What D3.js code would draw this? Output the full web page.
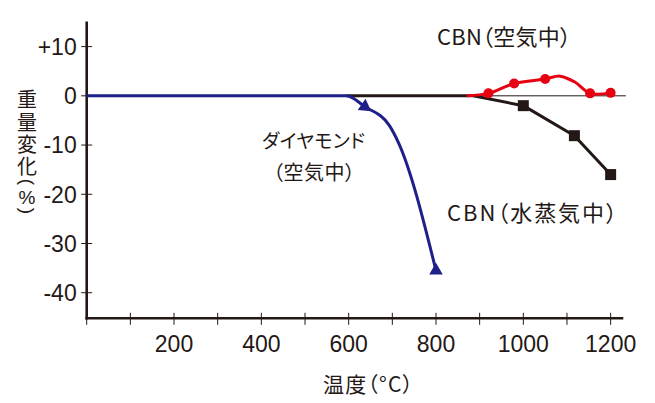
<!DOCTYPE html>
<html lang="ja">
<head>
<meta charset="utf-8">
<script src="https://cdn.jsdelivr.net/npm/d3@7"></script>
<style>
  html, body { margin: 0; padding: 0; background: #fff; }
  svg { display: block; }
  .num { font-family: "Liberation Sans", Arial, Helvetica, sans-serif; }
  .jp { font-family: "Noto Sans CJK JP", "Noto Sans", sans-serif; font-feature-settings: "palt"; }
</style>
</head>
<body>
<svg id="chart" width="655" height="403"></svg>
<script>
// Temperature (°C) axis
const xTicks = [0, 100, 200, 300, 400, 500, 600, 700, 800, 900, 1000, 1100, 1200];
const xTickLabels = [200, 400, 600, 800, 1000, 1200];
// Weight change (%) axis
const yTicks = [10, 0, -10, -20, -30, -40];
const yTickLabels = ["+10", "0", "-10", "-20", "-30", "-40"];

// Diamond in air
const diamondLine = [[0, 0], [595, 0], [637, -2.2], [693, -6.0], [714, -9.5], [800, -35.5]];
const diamondPts = [[637, -2.2], [800, -35.5]];

// CBN in air
const cbnAirLine = [[870, 0], [920, 0.5], [979, 2.5], [1050, 3.4], [1084, 4.0], [1118, 2.8], [1153, 0.5], [1200, 0.6]];
const cbnAirPts = [[920, 0.5], [979, 2.5], [1050, 3.4], [1153, 0.5], [1200, 0.6]];

// CBN in steam
const cbnSteamLine = [[595, 0], [885, 0], [1000, -2.0], [1117, -8.1], [1200, -16.0]];
const cbnSteamPts = [[1000, -2.0], [1117, -8.1], [1200, -16.0]];

// Zero reference line on the right-hand side
const zeroRef = [[880, 0], [1235, 0]];

const ink = "#231815";
const blue = "#1d2088";
const red = "#e60012";

const svg = d3.select("#chart");

const x = d3.scaleLinear().domain([0, 1229]).range([86.7, 623.3]);
const y = d3.scaleLinear().domain([-45.2, 15.1]).range([318.3, 21.5]);

// Axes
const gx = svg.append("g").attr("transform", `translate(0,${y(-45.2)})`);
gx.append("line").attr("x1", x(0) - 1.3).attr("x2", x(1229))
  .attr("stroke", ink).attr("stroke-width", 2.6);
gx.selectAll("line.tick").data(xTicks).join("line").attr("class", "tick")
  .attr("x1", d => x(d)).attr("x2", d => x(d)).attr("y1", -5.5).attr("y2", 6.5)
  .attr("stroke", ink).attr("stroke-width", 1);
gx.selectAll("text").data(xTickLabels).join("text").attr("class", "num")
  .attr("x", d => x(d)).attr("y", 34).attr("text-anchor", "middle")
  .attr("font-size", 23).attr("fill", ink).text(d => d);

const gy = svg.append("g").attr("transform", `translate(${x(0)},0)`);
gy.append("line").attr("y1", y(15.1)).attr("y2", y(-45.2) + 1.3)
  .attr("stroke", ink).attr("stroke-width", 2.6);
gy.selectAll("line.tick").data(yTicks).join("line").attr("class", "tick")
  .attr("y1", d => y(d)).attr("y2", d => y(d)).attr("x1", -5.5).attr("x2", 5.5)
  .attr("stroke", ink).attr("stroke-width", 1);
gy.selectAll("text").data(yTicks).join("text").attr("class", "num")
  .attr("x", -10).attr("y", d => y(d)).attr("dy", "0.36em").attr("text-anchor", "end")
  .attr("font-size", 23).attr("fill", ink).text((d, i) => yTickLabels[i]);

// X axis title
svg.append("text").attr("class", "jp").attr("x", 368).attr("y", 392)
  .attr("text-anchor", "middle").attr("font-size", 21).attr("fill", ink)
  .attr("textLength", 90).attr("lengthAdjust", "spacing").text("温度（°C）");

// Y axis title, set vertically one glyph at a time
const yTitle = [
  { t: "重", cy: 98, rot: 0, cls: "jp" },
  { t: "量", cy: 121, rot: 0, cls: "jp" },
  { t: "変", cy: 143, rot: 0, cls: "jp" },
  { t: "化", cy: 165, rot: 0, cls: "jp" },
  { t: "(", cy: 182, rot: 90, cls: "num" },
  { t: "%", cy: 197, rot: 0, cls: "num" },
  { t: ")", cy: 211, rot: 90, cls: "num" }
];
svg.append("g").selectAll("text").data(yTitle).join("text")
  .attr("class", d => d.cls)
  .attr("transform", d => `translate(27,${d.cy}) rotate(${d.rot})`)
  .attr("text-anchor", "middle").attr("dominant-baseline", "central")
  .attr("font-size", d => d.cls === "jp" ? 20 : 19).attr("fill", ink).text(d => d.t);

// Series lines
const line = d3.line().x(d => x(d[0])).y(d => y(d[1]));

svg.append("path").datum(zeroRef).attr("d", line)
  .attr("fill", "none").attr("stroke", ink).attr("stroke-width", 1);

svg.append("path").datum(cbnSteamLine).attr("d", line.curve(d3.curveLinear))
  .attr("fill", "none").attr("stroke", ink).attr("stroke-width", 3).attr("stroke-linejoin", "round");
svg.append("g").selectAll("path").data(cbnSteamPts).join("path")
  .attr("d", d3.symbol(d3.symbolSquare, 121))
  .attr("transform", d => `translate(${x(d[0])},${y(d[1])})`).attr("fill", ink);

svg.append("path").datum(diamondLine).attr("d", line.curve(d3.curveMonotoneX))
  .attr("fill", "none").attr("stroke", blue).attr("stroke-width", 3);
svg.append("g").selectAll("path").data(diamondPts).join("path")
  .attr("d", d3.symbol(d3.symbolTriangle, 80))
  .attr("transform", (d, i) => `translate(${x(d[0])},${y(d[1])})` + (i === 0 ? " rotate(125)" : ""))
  .attr("fill", blue);

svg.append("path").datum(cbnAirLine).attr("d", line.curve(d3.curveCatmullRom.alpha(0.5)))
  .attr("fill", "none").attr("stroke", red).attr("stroke-width", 3);
svg.append("g").selectAll("circle").data(cbnAirPts).join("circle")
  .attr("cx", d => x(d[0])).attr("cy", d => y(d[1])).attr("r", 5).attr("fill", red);

// Series labels
const labels = [
  { t: "CBN（空気中）", x: 504, y: 45, fs: 22, w: 134 },
  { t: "CBN（水蒸気中）", x: 532, y: 221, fs: 22, w: 170 },
  { t: "ダイヤモンド", x: 313.5, y: 148, fs: 19, w: 103 },
  { t: "（空気中）", x: 314, y: 180, fs: 20, w: 82 }
];
svg.append("g").selectAll("text").data(labels).join("text").attr("class", "jp")
  .attr("x", d => d.x).attr("y", d => d.y).attr("text-anchor", "middle")
  .attr("font-size", d => d.fs).attr("fill", ink)
  .attr("textLength", d => d.w).attr("lengthAdjust", "spacing").text(d => d.t);
</script>
</body>
</html>
